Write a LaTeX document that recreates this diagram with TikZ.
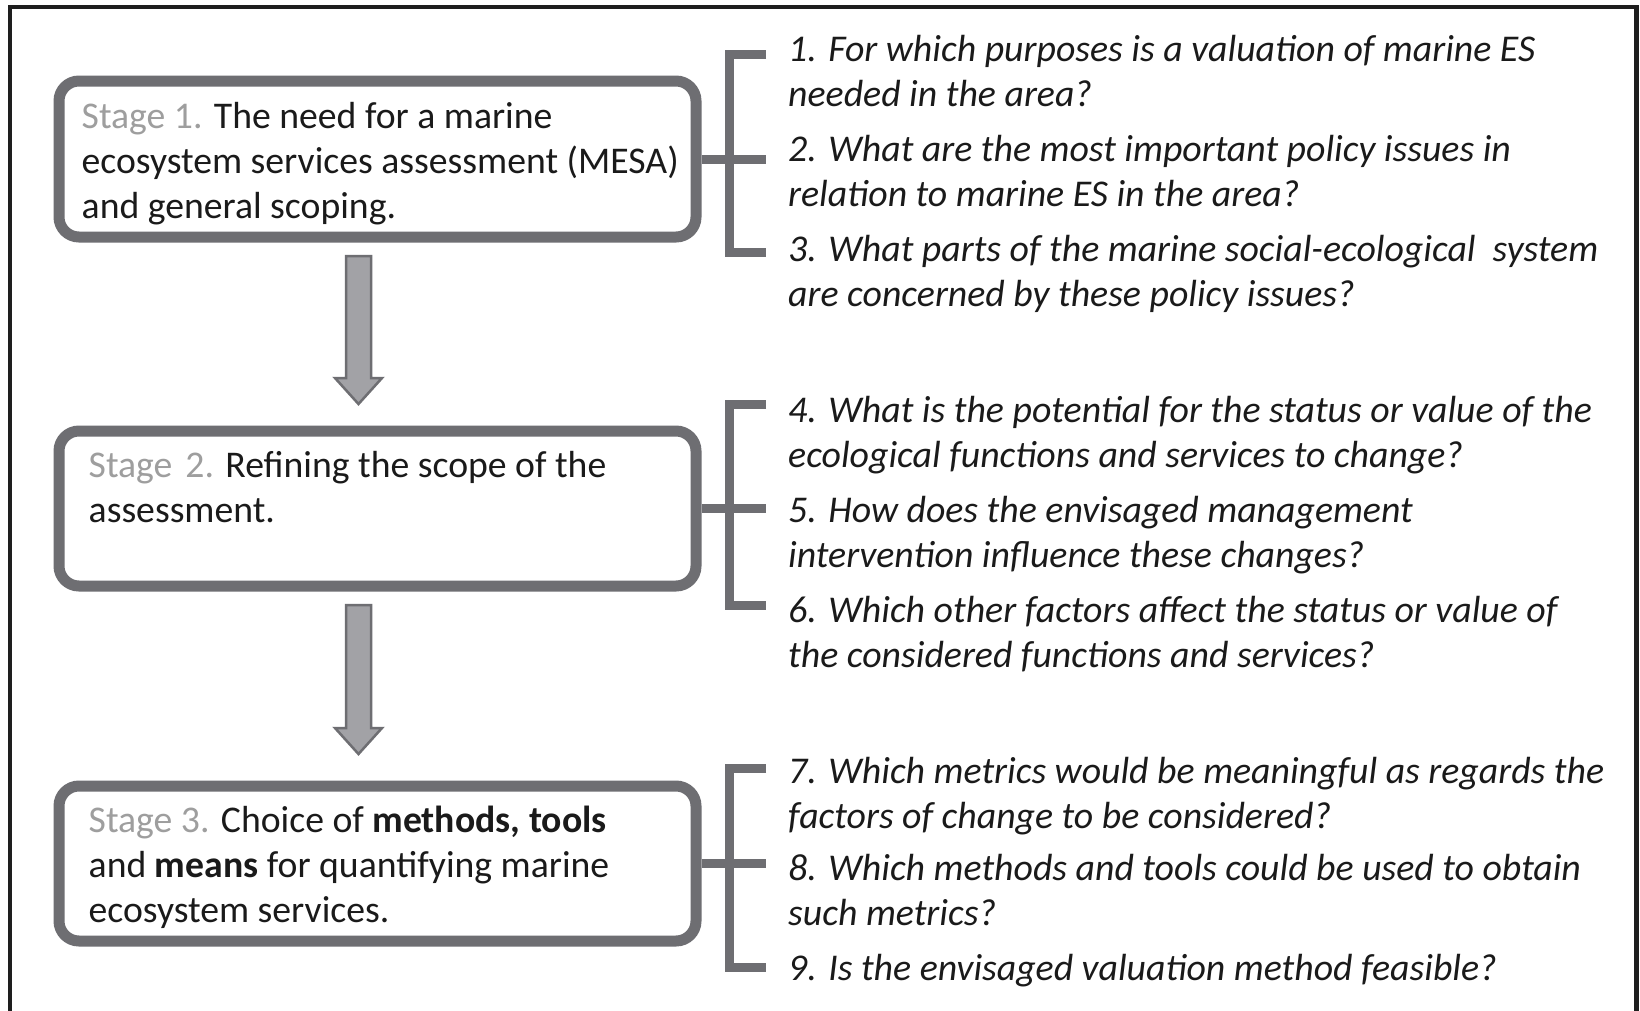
\documentclass[tikz,border=0pt]{standalone}
\usepackage{fontspec}
\setmainfont{Carlito}
\usetikzlibrary{calc}
\definecolor{framec}{HTML}{1E1E1E}
\definecolor{boxgrey}{HTML}{6E6E72}
\definecolor{arrowfill}{HTML}{A2A2A6}
\definecolor{stagegrey}{HTML}{9E9E9E}
\definecolor{txt}{HTML}{1A1A1A}
\newcommand{\mylines}[1]{\begin{tabular}[t]{@{}l@{}}#1\end{tabular}}
\begin{document}
\begin{tikzpicture}[x=1pt,y=-1pt,
 stagebox/.style={draw=boxgrey, line width=11pt, rounded corners=20pt, minimum width=637pt, inner sep=0pt, fill=white},
 bracket/.style={draw=boxgrey, line width=9pt, line join=miter},
 qtext/.style={anchor=base west, inner sep=0pt, font=\fontsize{37.8}{45}\selectfont\itshape, text=txt},
 stext/.style={anchor=base west, inner sep=0pt, font=\fontsize{37.7}{45}\selectfont, text=txt},
 bigarrow/.style={draw=boxgrey, line width=2.5pt, fill=arrowfill, line join=miter}
]
\useasboundingbox (0,0) rectangle (1640,1010);
\fill[white] (0,0) rectangle (1640,1010);
% frame
\draw[framec, line width=4.5pt] (10,1015) -- (10,7) -- (1636.5,7) -- (1636.5,1015);

% stage boxes
\node[stagebox, minimum height=156pt] (s1) at (377.5,159) {};
\node[stagebox, minimum height=155pt] (s2) at (377.5,508.5) {};
\node[stagebox, minimum height=155pt] (s3) at (377.5,863.5) {};

% stage texts
\node[stext] (t1) at (81.5,128) {\mylines{{\color{stagegrey}Stage 1.} The need for a marine\\ecosystem services assessment (MESA)\\and general scoping.}};
\node[stext] (t2) at (88.5,477) {\mylines{{\color{stagegrey}Stage\hspace{0.12em} 2.} Refining the scope of the\\assessment.}};
\node[stext] (t3) at (88.5,832) {\mylines{{\color{stagegrey}Stage 3.} Choice of \textbf{methods, tools}\\and \textbf{means} for quantifying marine\\ecosystem services.}};

% arrows between stages
\coordinate (a1s) at (358.5,256);
\coordinate (a1t) at (358.5,404);
\coordinate (a2s) at (358.5,605);
\coordinate (a2t) at (358.5,754);
\foreach \s/\t in {a1s/a1t, a2s/a2t}{
  \draw[bigarrow] ($(\s)+(-12.5,0)$) -- ($(\t)+(-12.5,-26)$) -- ($(\t)+(-23.5,-26)$) -- (\t)
     -- ($(\t)+(23.5,-26)$) -- ($(\t)+(12.5,-26)$) -- ($(\s)+(12.5,0)$) -- cycle;
}

% brackets
\coordinate (b1t) at (766,54);
\coordinate (b1b) at (766,252);
\coordinate (b2t) at (766,404);
\coordinate (b2b) at (766,605);
\coordinate (b3t) at (766,768);
\coordinate (b3b) at (766,967);
\draw[bracket] (b1t) -- ++(-36.5,0) |- (b1b);
\draw[bracket] (b2t) -- ++(-36.5,0) |- (b2b);
\draw[bracket] (b3t) -- ++(-36.5,0) |- (b3b);
\draw[bracket] (s1.east) -- (s1.east -| b1t);
\draw[bracket] (s2.east) -- (s2.east -| b2t);
\draw[bracket] (s3.east) -- (s3.east -| b3t);

% questions
\node[qtext] (q1) at (788,61) {\mylines{1. For which purposes is a valuation of marine ES\\needed in the area?}};
\node[qtext] (q2) at (788,161) {\mylines{2. What are the most important policy issues in\\relation to marine ES in the area?}};
\node[qtext] (q3) at (788,261) {\mylines{3. What parts of the marine social-ecological\ \ system\\are concerned by these policy issues?}};
\node[qtext] (q4) at (788,422) {\mylines{4. What is the potential for the status or value of the\\ecological functions and services to change?}};
\node[qtext] (q5) at (788,522) {\mylines{5. How does the envisaged management\\intervention influence these changes?}};
\node[qtext] (q6) at (788,622) {\mylines{6. Which other factors affect the status or value of\\the considered functions and services?}};
\node[qtext] (q7) at (788,783) {\mylines{7. Which metrics would be meaningful as regards the\\factors of change to be considered?}};
\node[qtext] (q8) at (788,880) {\mylines{8. Which methods and tools could be used to obtain\\such metrics?}};
\node[qtext] (q9) at (788,980) {\mylines{9. Is the envisaged valuation method feasible?}};
\end{tikzpicture}
\end{document}
